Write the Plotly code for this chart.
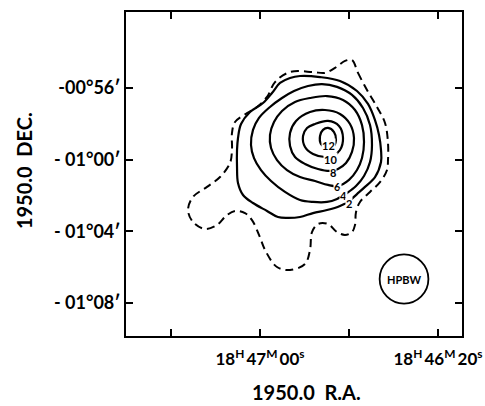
import plotly.graph_objects as go

# RA in seconds of time past 18h46m00s (1950.0); Dec in arcminutes (-60 = -01°00')
ra_tick_vals = [80, 60, 40, 20]
ra_tick_text = ["", "18<sup>H</sup>\u200947<sup>M</sup>\u200900<sup>s</sup>", "",
                "18<sup>H</sup>\u200946<sup>M</sup>\u200920<sup>s</sup>"]
dec_tick_vals = [-56, -60, -64, -68]
dec_tick_text = ["-00°56′", "- 01°00′", "- 01°04′", "- 01°08′"]

# lowest (dashed) contour
c1_ra = [39.33, 37.98, 35.96, 33.71, 31.91, 31.24, 31.24, 31.46, 33.04, 35.28, 37.53, 38.43, 38.66, 39.33,
         40.90, 42.70, 44.72, 46.97, 48.32, 48.77, 49.89, 53.26, 56.18, 58.65, 60.23, 61.80, 63.37, 65.62,
         67.64, 69.67, 72.36, 75.06, 76.18, 75.06, 71.91, 68.99, 66.75, 66.30, 66.30, 65.62, 62.92, 60.68,
         58.43, 56.63, 53.26, 48.09, 45.40, 43.15, 40.90, 39.33]
c1_dec = [-54.44, -55.16, -56.11, -57.06, -57.95, -59.07, -60.02, -60.58, -61.25, -61.80, -62.36, -62.92, -63.65, -64.04,
          -64.20, -64.04, -63.59, -63.59, -64.04, -65.04, -65.82, -66.16, -65.99, -65.15, -64.20, -63.37, -62.98, -62.86,
          -63.14, -63.65, -63.87, -63.48, -62.81, -62.08, -61.52, -60.97, -60.19, -59.46, -58.51, -57.90, -57.40, -57.06,
          -56.50, -55.67, -55.11, -55.11, -55.16, -54.88, -54.49, -54.44]

c2_ra = [51.01, 46.52, 42.03, 38.21, 35.74, 34.16, 33.26, 32.81, 32.81, 34.16, 36.41, 38.21, 40.00, 42.03, 44.95,
         48.09, 51.01, 53.94, 55.96, 58.43, 61.58, 63.82, 64.95, 65.17, 65.17, 64.95, 64.27, 62.25, 59.33, 57.31,
         55.51, 53.26, 51.01]
c2_dec = [-55.33, -55.39, -55.61, -56.17, -56.89, -57.79, -58.62, -59.46, -60.13, -60.97, -61.52, -61.92, -62.31, -62.58,
          -62.81, -62.98, -63.20, -63.25, -63.20, -62.86, -62.42, -61.97, -61.30, -60.41, -59.46, -58.79, -58.01, -57.34,
          -56.84, -56.28, -55.72, -55.44, -55.33]

c4_ra = [49.22, 46.07, 42.70, 39.33, 36.86, 35.28, 34.84, 35.28, 36.63, 38.43, 40.45, 42.70, 44.95, 48.09, 51.01,
         54.39, 57.53, 59.78, 61.35, 62.03, 61.58, 60.23, 57.76, 55.06, 52.36, 49.22]
c4_dec = [-55.89, -55.78, -55.94, -56.39, -57.12, -58.07, -59.18, -60.13, -60.91, -61.47, -61.86, -62.19, -62.36, -62.36,
          -62.25, -61.80, -61.19, -60.58, -59.91, -59.18, -58.34, -57.67, -57.06, -56.56, -56.17, -55.89]

c6_ra = [48.77, 44.95, 41.35, 38.66, 37.08, 36.63, 37.08, 38.21, 40.00, 42.48, 44.72, 47.64, 51.01, 53.94, 56.18,
         57.53, 57.76, 56.86, 55.06, 52.14, 48.77]
c6_dec = [-56.56, -56.45, -56.67, -57.23, -58.07, -59.01, -59.91, -60.58, -61.13, -61.47, -61.41, -61.19, -60.97, -60.58,
          -60.02, -59.35, -58.62, -57.90, -57.28, -56.78, -56.56]

c8_ra = [48.77, 45.40, 42.03, 39.78, 38.88, 39.33, 40.68, 42.48, 44.27, 46.97, 49.89, 52.14, 53.26, 53.26, 51.91, 48.77]
c8_dec = [-57.34, -57.23, -57.45, -58.01, -58.79, -59.57, -60.19, -60.52, -60.63, -60.52, -60.24, -59.85, -59.24, -58.51,
          -57.84, -57.34]

c10_ra = [47.64, 44.72, 42.25, 41.35, 42.03, 43.60, 45.40, 48.09, 49.89, 50.34, 49.44, 47.64]
c10_dec = [-58.01, -57.84, -58.12, -58.79, -59.46, -59.79, -59.85, -59.68, -59.29, -58.68, -58.23, -58.01]

c12_ra = [44.72, 43.37, 42.93, 43.60, 44.95, 46.29, 46.52, 45.85, 44.72]
c12_dec = [-58.23, -58.46, -58.90, -59.29, -59.35, -59.13, -58.68, -58.34, -58.23]

label_text = ["12", "10", "8", "6", "4", "2"]
label_ra = [44.72, 44.27, 43.60, 42.48, 41.35, 40.00]
label_dec = [-59.22, -60.00, -60.70, -61.50, -62.00, -62.45]

# HPBW beam
beam_ra = 27.64
beam_dec = -66.66
beam_radius_arcmin = 1.37

FONT = "Lato"
fig = go.Figure()

fig.add_trace(go.Scatter(x=c1_ra, y=c1_dec, mode="lines",
                         line=dict(color="black", width=2, dash="8px,5px", shape="spline", smoothing=1.0),
                         hoverinfo="skip", showlegend=False))
for xs, ys in [(c2_ra, c2_dec), (c4_ra, c4_dec), (c6_ra, c6_dec), (c8_ra, c8_dec), (c10_ra, c10_dec), (c12_ra, c12_dec)]:
    fig.add_trace(go.Scatter(x=xs, y=ys, mode="lines",
                             line=dict(color="black", width=2.2, shape="spline", smoothing=1.0),
                             hoverinfo="skip", showlegend=False))

for t, xv, yv in zip(label_text, label_ra, label_dec):
    fig.add_annotation(x=xv, y=yv, text=t, showarrow=False, bgcolor="white", borderpad=0,
                       font=dict(family=FONT, size=11, color="black", weight="bold"))

r_s = beam_radius_arcmin * 4.0
fig.add_shape(type="circle", xref="x", yref="y", x0=beam_ra - r_s, x1=beam_ra + r_s,
              y0=beam_dec - beam_radius_arcmin, y1=beam_dec + beam_radius_arcmin,
              line=dict(color="black", width=1.8))
fig.add_annotation(x=beam_ra, y=beam_dec, text="HPBW", showarrow=False,
                   font=dict(family=FONT, size=11, color="black", weight="bold"))

fig.add_annotation(xref="paper", yref="paper", x=-0.3036, y=0.512, xanchor="center", yanchor="middle",
                   text="1950.0  DEC.", textangle=-90,
                   showarrow=False, font=dict(family=FONT, size=20, color="black", weight="bold"))
fig.add_annotation(xref="paper", yref="paper", x=0.536, y=-0.174, xanchor="center", yanchor="middle",
                   text="1950.0  R.A.",
                   showarrow=False, font=dict(family=FONT, size=20, color="black", weight="bold"))

axis_common = dict(showgrid=False, zeroline=False, showline=True, linecolor="black", linewidth=2,
                   mirror="ticks", ticks="inside", ticklen=7, tickwidth=2, tickcolor="black",
                   automargin=False, ticklabeloverflow="allow")
fig.update_xaxes(range=[90.12, 14.61], tickmode="array", tickvals=ra_tick_vals, ticktext=ra_tick_text,
                 ticklabelstandoff=7,
                 tickfont=dict(family=FONT, size=17, color="black", weight="bold"), **axis_common)
fig.update_yaxes(range=[-69.84, -51.76], tickmode="array", tickvals=dec_tick_vals, ticktext=dec_tick_text,
                 tickfont=dict(family=FONT, size=18, color="black", weight="bold"), **axis_common)

fig.update_layout(width=485, height=406, margin=dict(l=126, r=23, t=12, b=70),
                  plot_bgcolor="white", paper_bgcolor="white", showlegend=False)

fig.write_html("out.html", config={"displayModeBar": False},
               post_script="document.body.style.margin='0px';")
